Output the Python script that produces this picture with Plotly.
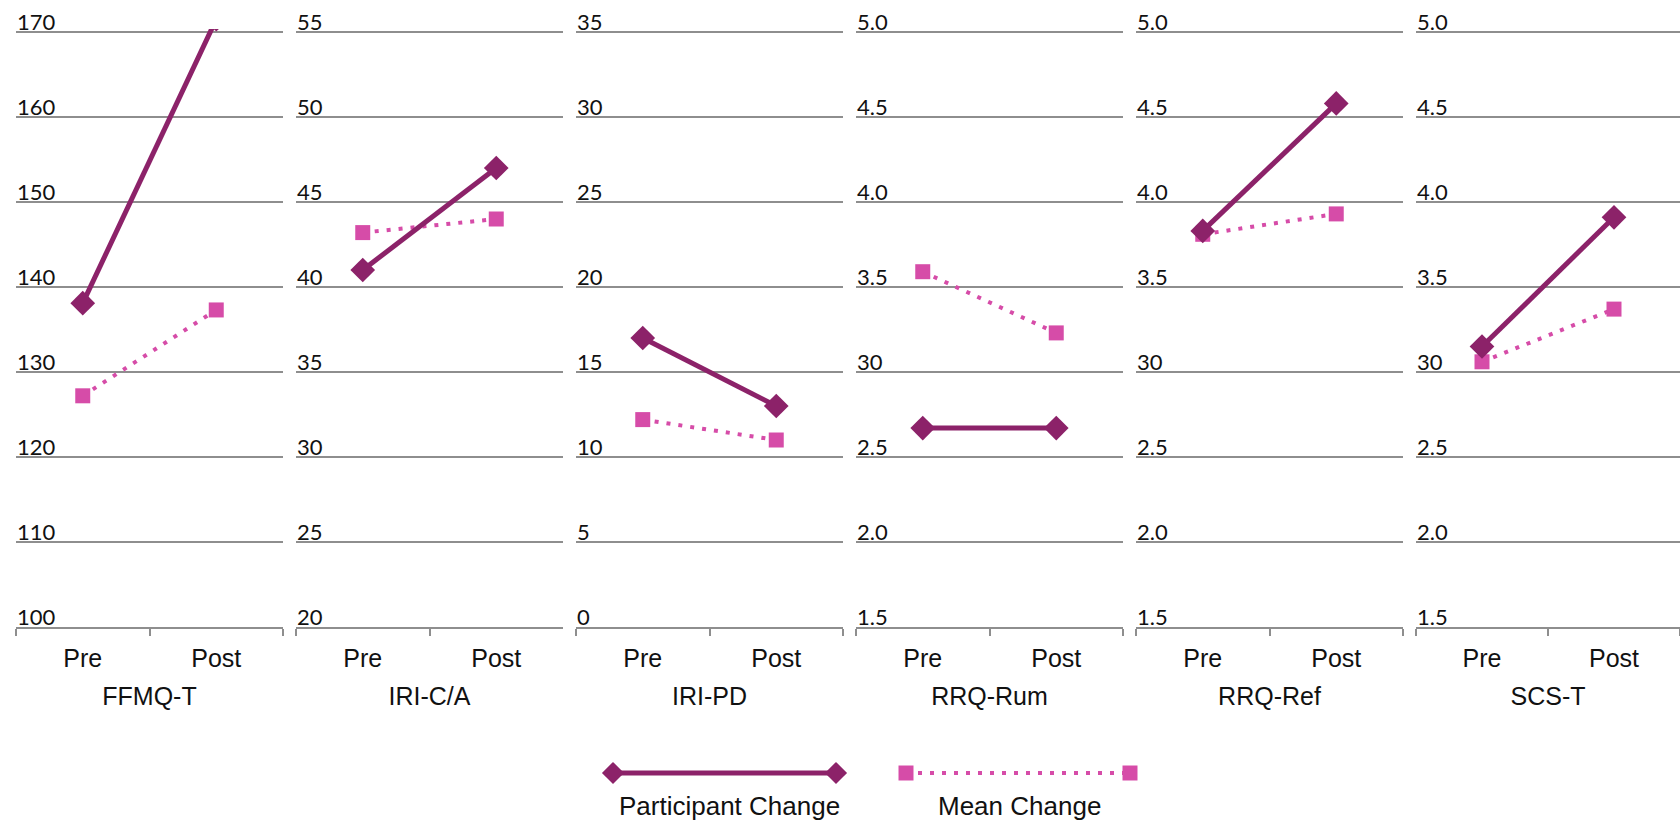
import plotly.graph_objects as go

# Scores per measure, before and after
measures = ["FFMQ-T", "IRI-C/A", "IRI-PD", "RRQ-Rum", "RRQ-Ref", "SCS-T"]
phases = ["Pre", "Post"]
participant_change = [
    [138.1, 171.5],
    [41.0, 47.0],
    [17.0, 13.0],
    [2.67, 2.67],
    [3.83, 4.58],
    [3.15, 3.91],
]
mean_change = [
    [127.2, 137.3],
    [43.2, 44.0],
    [12.2, 11.0],
    [3.59, 3.23],
    [3.81, 3.93],
    [3.06, 3.37],
]

# Value axis per panel
y_ranges = [(100, 170), (20, 55), (0, 35), (1.5, 5.0), (1.5, 5.0), (1.5, 5.0)]
tick_values = [
    [100, 110, 120, 130, 140, 150, 160, 170],
    [20, 25, 30, 35, 40, 45, 50, 55],
    [0, 5, 10, 15, 20, 25, 30, 35],
    [1.5, 2.0, 2.5, 3.0, 3.5, 4.0, 4.5, 5.0],
    [1.5, 2.0, 2.5, 3.0, 3.5, 4.0, 4.5, 5.0],
    [1.5, 2.0, 2.5, 3.0, 3.5, 4.0, 4.5, 5.0],
]
tick_labels = [
    ["100", "110", "120", "130", "140", "150", "160", "170"],
    ["20", "25", "30", "35", "40", "45", "50", "55"],
    ["0", "5", "10", "15", "20", "25", "30", "35"],
    ["1.5", "2.0", "2.5", "30", "3.5", "4.0", "4.5", "5.0"],
    ["1.5", "2.0", "2.5", "30", "3.5", "4.0", "4.5", "5.0"],
    ["1.5", "2.0", "2.5", "30", "3.5", "4.0", "4.5", "5.0"],
]

series_names = ["Participant Change", "Mean Change"]

W, H = 1680, 824
PART_COLOR = "#8C2269"
MEAN_COLOR = "#D64CA8"
GRID_COLOR = "#8E8E8E"
TEXT_COLOR = "#111111"
SANS = "Liberation Sans, Arial"
NUM_FONT = "Lato, Carlito, Calibri"

fig = go.Figure()

panel_w, panel_step, panel_x0 = 267, 280, 16
y_top, y_bot = 32, 627
pad = 0.005  # headroom so the top gridline stays inside the plot area
y_dom = [1 - y_bot / H, 1 - (y_top - (y_bot - y_top) * pad) / H]

for i, name in enumerate(measures):
    n = "" if i == 0 else str(i + 1)
    x0 = panel_x0 + panel_step * i
    x1 = min(x0 + panel_w, W)
    fig.add_trace(go.Scatter(
        x=phases, y=mean_change[i], xaxis="x" + n, yaxis="y" + n,
        mode="lines+markers", showlegend=False,
        line=dict(color=MEAN_COLOR, width=4, dash="4px,8px"),
        marker=dict(symbol="square", size=15, color=MEAN_COLOR),
    ))
    fig.add_trace(go.Scatter(
        x=phases, y=participant_change[i], xaxis="x" + n, yaxis="y" + n,
        mode="lines+markers", showlegend=False,
        line=dict(color=PART_COLOR, width=5),
        marker=dict(symbol="diamond", size=19, color=PART_COLOR),
    ))
    fig.layout["xaxis" + n] = dict(
        domain=[x0 / W, x1 / W], anchor="y" + n,
        type="category", categoryorder="array", categoryarray=phases,
        range=[-0.5, 1.5], tickson="boundaries",
        ticks="outside", ticklen=7, tickwidth=1.5, tickcolor=GRID_COLOR,
        ticklabelstandoff=8,
        showline=True, linecolor=GRID_COLOR, linewidth=1.5,
        showgrid=False, zeroline=False,
        tickfont=dict(family=SANS, size=25, color=TEXT_COLOR),
        title=dict(text=name, standoff=17,
                   font=dict(family=SANS, size=25, color=TEXT_COLOR)),
    )
    lo, hi = y_ranges[i]
    fig.layout["yaxis" + n] = dict(
        domain=y_dom, anchor="x" + n, range=[lo, hi + (hi - lo) * pad],
        tickmode="array", tickvals=tick_values[i], ticktext=tick_labels[i],
        showticklabels=False, ticks="",
        showgrid=True, gridcolor=GRID_COLOR, gridwidth=1.5,
        zeroline=False, showline=False,
    )
    # value labels sit just above each gridline at the panel's left edge
    for v, t in zip(tick_values[i], tick_labels[i]):
        fig.add_annotation(
            x=x0 / W, xref="paper", y=v, yref="y" + n,
            text=t, showarrow=False, xanchor="left", yanchor="bottom",
            borderpad=0, yshift=-4,
            font=dict(family=NUM_FONT, size=22, color=TEXT_COLOR),
        )

# Legend keys drawn on a hidden full-page axis
legend_x = [[613, 836], [906, 1130]]
legend_y = 773
legend_text_x = [729, 1020]
legend_text_y = 806
fig.add_trace(go.Scatter(
    x=legend_x[0], y=[legend_y, legend_y], xaxis="x7", yaxis="y7",
    mode="lines+markers", showlegend=False,
    line=dict(color=PART_COLOR, width=5),
    marker=dict(symbol="diamond", size=17, color=PART_COLOR),
))
fig.add_trace(go.Scatter(
    x=legend_x[1], y=[legend_y, legend_y], xaxis="x7", yaxis="y7",
    mode="lines+markers", showlegend=False,
    line=dict(color=MEAN_COLOR, width=4, dash="4px,8px"),
    marker=dict(symbol="square", size=15, color=MEAN_COLOR),
))
fig.layout["xaxis7"] = dict(domain=[0, 1], range=[0, W], visible=False, anchor="y7")
fig.layout["yaxis7"] = dict(domain=[0, 1], range=[H, 0], visible=False, anchor="x7")

for label, tx in zip(series_names, legend_text_x):
    fig.add_annotation(
        x=tx / W, y=1 - legend_text_y / H, xref="paper", yref="paper",
        text=label, showarrow=False, xanchor="center", yanchor="middle",
        font=dict(family=SANS, size=26, color=TEXT_COLOR),
    )

fig.update_layout(
    width=W, height=H,
    margin=dict(l=0, r=0, t=0, b=0),
    paper_bgcolor="white", plot_bgcolor="rgba(0,0,0,0)",
    showlegend=False,
)

fig.write_html("out.html")
